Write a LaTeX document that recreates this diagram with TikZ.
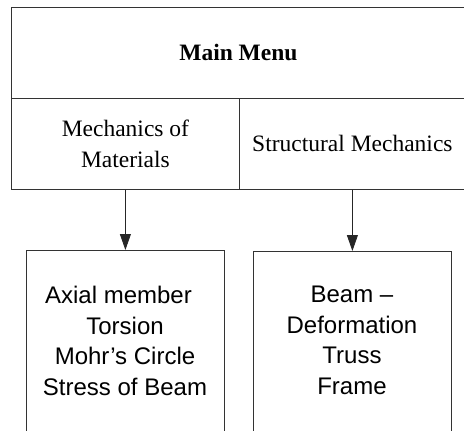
\documentclass[tikz,border=0pt]{standalone}
\usepackage{fontspec}
\setmainfont{Liberation Serif}
\setsansfont{Liberation Sans}
\usetikzlibrary{arrows.meta}
\tikzset{
  cell/.style={draw=black!80, line width=0.8pt, rectangle, inner sep=0pt, anchor=north west, font=\fontsize{23.5}{31}\selectfont, align=center},
  lowbox/.style={draw=black!80, line width=0.8pt, rectangle, inner sep=0pt, anchor=north west, minimum width=198pt, minimum height=220pt},
  lowtext/.style={inner sep=0pt, anchor=north, align=center, font=\sffamily\fontsize{24}{30.5}\selectfont},
  link/.style={draw=black!85, line width=0.8pt, -{Triangle[width=11pt,length=16pt]}}
}
\begin{document}
\begin{tikzpicture}[x=1pt,y=-1pt]
\useasboundingbox (0,0) rectangle (464,431);
\clip (0,0) rectangle (464,431);
\node[cell, minimum width=454pt, minimum height=91pt] (main) at (11,7) {\textbf{Main Menu}};
\node[cell, minimum width=228pt, minimum height=91pt] (mom) at (11,98) {Mechanics of\\Materials};
\node[cell, minimum width=226pt, minimum height=91pt] (sm) at (239,98) {Structural Mechanics};
\node[lowbox] (lbox) at (26,250) {};
\node[lowbox] (rbox) at (253,251) {};
\node[lowtext] (ltext) at (125,286) {Axial member\hspace*{13pt}\\Torsion\hspace*{13pt}\\Mohr's Circle\hspace*{13pt}\\Stress of Beam};
\node[lowtext] (rtext) at (352,286) {Beam --\\Deformation\\Truss\\Frame};
\draw[link] (mom.south) -- (lbox.north);
\draw[link] (sm.south) -- (rbox.north);
\end{tikzpicture}
\end{document}
